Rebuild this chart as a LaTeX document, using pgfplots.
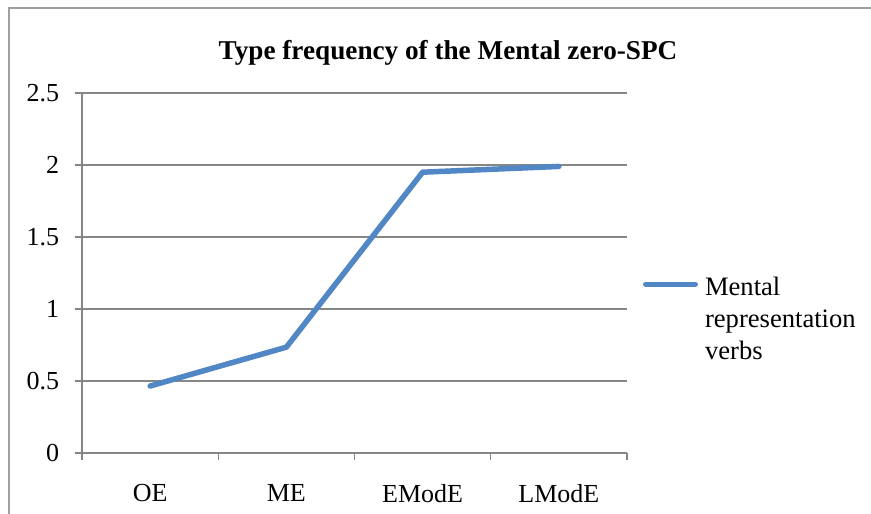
\documentclass[border=0pt]{standalone}
\usepackage{fontspec}
\setmainfont{Liberation Serif}
\usepackage{pgfplots}
\pgfplotsset{compat=1.18}
\definecolor{gridgray}{RGB}{134,134,134}
\definecolor{framegray}{RGB}{160,160,160}
\definecolor{lineblue}{RGB}{82,135,197}
\begin{document}
\begin{tikzpicture}
\useasboundingbox (0,0) rectangle (435.5pt,256.5pt);
\clip (0,0) rectangle (435.5pt,256.5pt);
\draw[framegray, line width=1pt] (4.5pt,-20pt) -- (4.5pt,252.5pt) -- (460pt,252.5pt);
\node[anchor=base, font=\fontsize{13.6}{16}\selectfont\bfseries, inner sep=0pt] at (224pt,226.5pt) {Type frequency of the Mental zero-SPC};
\begin{axis}[
  at={(41pt,30pt)}, anchor=south west,
  scale only axis, width=272.5pt, height=180pt,
  xmin=0, xmax=4, ymin=0, ymax=2.5,
  axis lines*=left,
  axis line style={gridgray, line width=0.6pt},
  every tick/.style={gridgray, line width=0.6pt},
  tick align=outside,
  major tick length=3.75pt, minor tick length=3.75pt,
  xtick={0.5,1.5,2.5,3.5},
  xticklabels={OE,ME,EModE,LModE},
  minor xtick={0,1,2,3,4},
  major x tick style={draw=none},
  ytick={0,0.5,1,1.5,2,2.5},
  yticklabels={0,0.5,1,1.5,2,2.5},
  /pgf/number format/assume math mode=true,
  ymajorgrids,
  major grid style={gridgray, line width=0.6pt},
  tick label style={font=\fontsize{13}{15}\selectfont},
  xticklabel style={yshift=-8.6pt},
  yticklabel style={xshift=-4.1pt},
  legend style={draw=none, fill=none, at={(1.0294,0.501)}, anchor=north west,
    inner sep=0pt, outer sep=0pt, column sep=3.5pt,
    nodes={inner sep=0pt, font=\fontsize{13.3}{16}\selectfont}},
  legend cell align=left,
  legend image code/.code={\draw[#1] (1.375pt,0.5pt) -- (26.125pt,0.5pt);},
  clip=false,
]
\addplot[lineblue, line width=2.75pt, line cap=round, line join=round]
  coordinates {(0.5,0.465) (1.5,0.735) (2.5,1.95) (3.5,1.99)};
\addlegendentry{\begin{tabular}[t]{@{}l@{}}Mental\\representation\\verbs\end{tabular}}
\end{axis}
\end{tikzpicture}
\end{document}
